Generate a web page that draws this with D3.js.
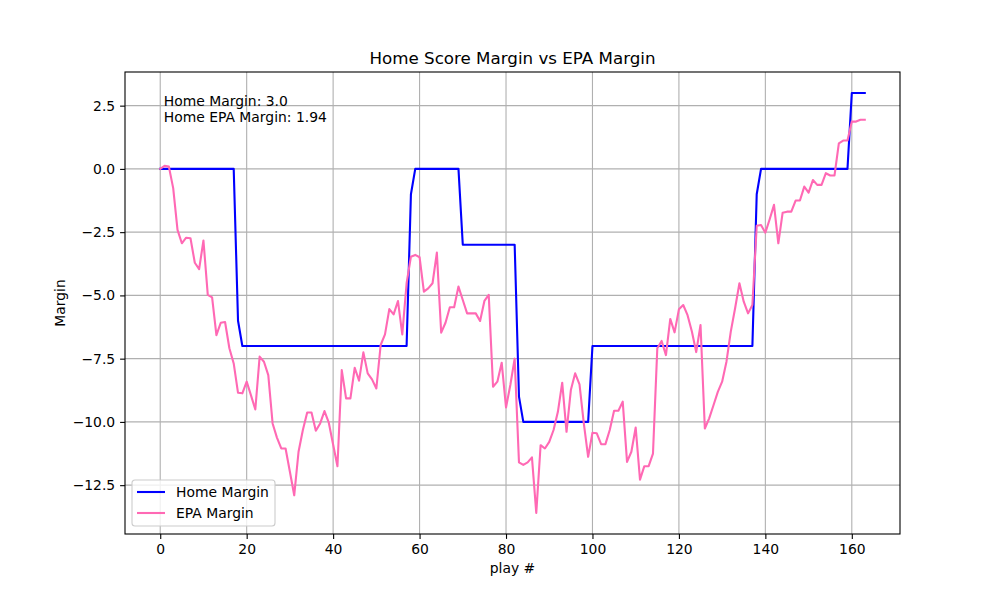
<!DOCTYPE html>
<html>
<head>
<meta charset="utf-8">
<script src="https://cdn.jsdelivr.net/npm/d3@7"></script>
<style>
  body { margin: 0; background: #fff; }
  svg { font-family: "DejaVu Sans", sans-serif; }
</style>
</head>
<body>
<svg id="chart"></svg>
<script>
// home score margin, one value per play
var homeMargin = [
  0,0,0,0,0,0,0,0,0,0,0,0,0,0,0,0,0,0,
  -6,
  -7,-7,-7,-7,-7,-7,-7,-7,-7,-7,-7,-7,-7,-7,-7,-7,-7,-7,-7,-7,
  -7,-7,-7,-7,-7,-7,-7,-7,-7,-7,-7,-7,-7,-7,-7,-7,-7,-7,-7,
  -1,
  0,0,0,0,0,0,0,0,0,0,0,
  -3,-3,-3,-3,-3,-3,-3,-3,-3,-3,-3,-3,-3,
  -9,
  -10,-10,-10,-10,-10,-10,-10,-10,-10,-10,-10,-10,-10,-10,-10,-10,
  -7,-7,-7,-7,-7,-7,-7,-7,-7,-7,-7,-7,-7,-7,-7,-7,-7,-7,-7,
  -7,-7,-7,-7,-7,-7,-7,-7,-7,-7,-7,-7,-7,-7,-7,-7,-7,-7,-7,
  -1,
  0,0,0,0,0,0,0,0,0,0,0,0,0,0,0,0,0,0,0,0,0,
  3,3,3,3
];

// EPA margin, one value per play
var epaMargin = [
  0.0, 0.12, 0.09, -0.76, -2.41, -2.94, -2.72, -2.74, -3.71, -3.96,
  -2.83, -4.98, -5.08, -6.57, -6.08, -6.05, -7.09, -7.69, -8.85, -8.87,
  -8.41, -8.95, -9.51, -7.42, -7.62, -8.15, -10.06, -10.62, -11.05, -11.05,
  -11.97, -12.9, -11.18, -10.32, -9.63, -9.63, -10.35, -10.06, -9.57, -10.03,
  -10.89, -11.75, -7.95, -9.07, -9.07, -7.86, -8.37, -7.25, -8.08, -8.32,
  -8.68, -6.96, -6.54, -5.54, -5.75, -5.22, -6.54, -4.52, -3.47, -3.4,
  -3.49, -4.85, -4.72, -4.52, -3.31, -6.47, -6.08, -5.47, -5.47, -4.65,
  -5.18, -5.71, -5.71, -5.71, -6.01, -5.22, -4.98, -8.61, -8.41, -7.66,
  -9.43, -8.54, -7.5, -11.6, -11.7, -11.6, -11.4, -13.6, -10.92, -11.05,
  -10.79, -10.32, -9.6, -8.45, -10.39, -8.74, -8.08, -8.52, -10.06, -11.38,
  -10.43, -10.45, -10.88, -10.88, -10.32, -9.56, -9.56, -9.2, -11.58, -11.18,
  -10.22, -12.28, -11.75, -11.75, -11.25, -7.09, -6.8, -7.36, -5.93, -6.46,
  -5.55, -5.38, -5.78, -6.43, -7.24, -6.17, -10.26, -9.86, -9.34, -8.81,
  -8.41, -7.62, -6.43, -5.51, -4.52, -5.25, -5.71, -5.38, -2.25, -2.22,
  -2.52, -1.99, -1.42, -2.94, -1.73, -1.69, -1.69, -1.25, -1.25, -0.7,
  -0.94, -0.44, -0.63, -0.63, -0.17, -0.26, -0.26, 1.01, 1.12, 1.12,
  1.87, 1.87, 1.94, 1.94
];

var xTicks = [0, 20, 40, 60, 80, 100, 120, 140, 160];
var yTicks = [2.5, 0, -2.5, -5, -7.5, -10, -12.5];

var seriesNames = ["Home Margin", "EPA Margin"];
var seriesColors = ["#0000ff", "#ff69b4"];

var titleText = "Home Score Margin vs EPA Margin";
var noteLines = ["Home Margin: 3.0", "Home EPA Margin: 1.94"];

var drawChart = function(){
  var width = 1000, height = 600;
  var margins = { top: 72, bottom: 66, left: 125, right: 100 };

  var svg = d3.select("#chart")
              .attr("width", width)
              .attr("height", height);

  var plotW = width - margins.left - margins.right;
  var plotH = height - margins.top - margins.bottom;

  var n = epaMargin.length;
  var xPad = (n - 1) * 0.05;
  var yMin = d3.min([d3.min(homeMargin), d3.min(epaMargin)]);
  var yMax = d3.max([d3.max(homeMargin), d3.max(epaMargin)]);
  var yPad = (yMax - yMin) * 0.05;

  var xScale = d3.scaleLinear()
                 .domain([-xPad, n - 1 + xPad])
                 .range([0, plotW]);
  var yScale = d3.scaleLinear()
                 .domain([yMin - yPad, yMax + yPad])
                 .range([plotH, 0]);

  var plot = svg.append("g")
                .attr("transform", "translate(" + margins.left + "," + margins.top + ")");

  // grid
  plot.append("g").selectAll("line")
      .data(xTicks).enter().append("line")
      .attr("x1", function(d){ return xScale(d); })
      .attr("x2", function(d){ return xScale(d); })
      .attr("y1", 0).attr("y2", plotH)
      .attr("stroke", "#b0b0b0").attr("stroke-width", 1.1);
  plot.append("g").selectAll("line")
      .data(yTicks).enter().append("line")
      .attr("y1", function(d){ return yScale(d); })
      .attr("y2", function(d){ return yScale(d); })
      .attr("x1", 0).attr("x2", plotW)
      .attr("stroke", "#b0b0b0").attr("stroke-width", 1.1);

  var fmtY = function(d){ return d3.format(".1f")(d).replace("-", "\u2212"); };

  var xAxis = plot.append("g")
                  .attr("transform", "translate(0," + plotH + ")")
                  .call(d3.axisBottom(xScale).tickValues(xTicks).tickSize(4.9).tickPadding(4.9).tickFormat(d3.format("d")));
  var yAxis = plot.append("g")
                  .call(d3.axisLeft(yScale).tickValues(yTicks).tickSize(4.9).tickPadding(4.9).tickFormat(fmtY));
  [xAxis, yAxis].forEach(function(ax){
    ax.select(".domain").remove();
    ax.selectAll("text").attr("font-size", "13.9px").attr("fill", "#000")
      .attr("font-family", "DejaVu Sans, sans-serif");
    ax.selectAll("line").attr("stroke", "#000").attr("stroke-width", 1.1);
  });

  var line = d3.line()
               .x(function(d, i){ return xScale(i); })
               .y(function(d){ return yScale(d); });

  plot.append("path").datum(homeMargin)
      .attr("d", line).attr("fill", "none")
      .attr("stroke", seriesColors[0]).attr("stroke-width", 2.1)
      .attr("stroke-linejoin", "round").attr("stroke-linecap", "square");
  plot.append("path").datum(epaMargin)
      .attr("d", line).attr("fill", "none")
      .attr("stroke", seriesColors[1]).attr("stroke-width", 2.1)
      .attr("stroke-linejoin", "round").attr("stroke-linecap", "square");

  // frame
  plot.append("rect")
      .attr("x", 0).attr("y", 0).attr("width", plotW).attr("height", plotH)
      .attr("fill", "none").attr("stroke", "#000").attr("stroke-width", 1.1);

  // note text
  plot.append("g").selectAll("text")
      .data(noteLines).enter().append("text")
      .attr("x", plotW * 0.05)
      .attr("y", function(d, i){ return 34 + i * 16; })
      .attr("font-size", "13.9px")
      .text(function(d){ return d; });

  // legend
  var legend = plot.append("g").attr("transform", "translate(7," + (plotH - 54) + ")");
  legend.append("rect")
        .attr("x", 0).attr("y", 0).attr("width", 143).attr("height", 46)
        .attr("rx", 3).attr("fill", "#fff").attr("fill-opacity", 0.8)
        .attr("stroke", "#cccccc").attr("stroke-width", 1.1);
  var items = legend.selectAll("g.item")
                    .data(seriesNames).enter().append("g")
                    .attr("transform", function(d, i){ return "translate(0," + (12 + i * 21) + ")"; });
  items.append("line")
       .attr("x1", 5).attr("x2", 33).attr("y1", 0).attr("y2", 0)
       .attr("stroke", function(d, i){ return seriesColors[i]; })
       .attr("stroke-width", 2.1);
  items.append("text")
       .attr("x", 44).attr("y", 5)
       .attr("font-size", "13.9px")
       .text(function(d){ return d; });

  // titles
  svg.append("text")
     .attr("x", margins.left + plotW / 2).attr("y", 64)
     .attr("text-anchor", "middle").attr("font-size", "16.7px")
     .text(titleText);
  svg.append("text")
     .attr("x", margins.left + plotW / 2).attr("y", 573)
     .attr("text-anchor", "middle").attr("font-size", "13.9px")
     .text("play #");
  svg.append("text")
     .attr("transform", "translate(65," + (margins.top + plotH / 2) + ") rotate(-90)")
     .attr("text-anchor", "middle").attr("font-size", "13.9px")
     .text("Margin");
}

drawChart();
</script>
</body>
</html>
